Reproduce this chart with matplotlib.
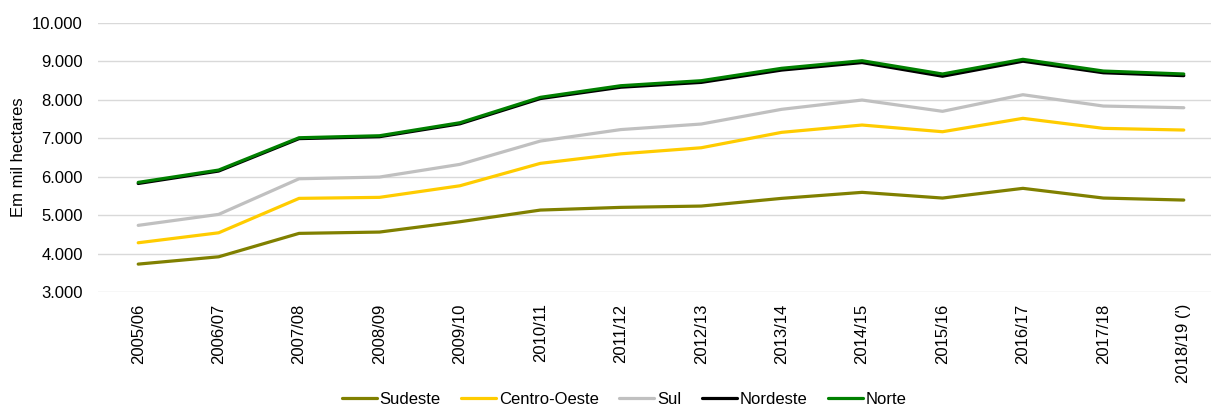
import matplotlib
matplotlib.use("Agg")
import matplotlib.pyplot as plt
from matplotlib.ticker import FuncFormatter

plt.rcParams['font.family'] = ['Liberation Sans', 'DejaVu Sans']

safras = ["2005/06", "2006/07", "2007/08", "2008/09", "2009/10", "2010/11", "2011/12",
          "2012/13", "2013/14", "2014/15", "2015/16", "2016/17", "2017/18", "2018/19 (')"]

sudeste = [3732, 3922, 4530, 4564, 4832, 5135, 5205, 5239, 5439, 5595, 5447, 5699, 5447, 5395]
centro_oeste = [4286, 4545, 5439, 5465, 5766, 6348, 6595, 6753, 7153, 7343, 7169, 7517, 7257, 7213]
sul = [4738, 5023, 5948, 5992, 6322, 6927, 7225, 7369, 7751, 7992, 7699, 8130, 7836, 7792]
nordeste = [5825, 6148, 6990, 7040, 7375, 8030, 8325, 8450, 8770, 8965, 8610, 9000, 8700, 8625]
norte = [5854, 6174, 7013, 7065, 7403, 8062, 8364, 8494, 8816, 9013, 8668, 9049, 8745, 8668]

series = [
    ("Sudeste", sudeste, "#808000"),
    ("Centro-Oeste", centro_oeste, "#FFCC00"),
    ("Sul", sul, "#C0C0C0"),
    ("Nordeste", nordeste, "#000000"),
    ("Norte", norte, "#008000"),
]

FS = 12

fig = plt.figure(figsize=(12.11, 4.05), dpi=100)
ax = fig.add_axes([98/1211, 1 - 292.3/405, (1224-98)/1211, (292.3-22.7)/405])

x = list(range(len(safras)))
for name, vals, color in series:
    ax.plot(x, vals, color=color, lw=2.3, label=name, solid_capstyle='round', solid_joinstyle='round')

ax.set_xlim(-0.5, len(safras) - 0.5)
ax.set_ylim(3000, 10000)
ax.set_yticks(range(3000, 10001, 1000))
ax.yaxis.set_major_formatter(FuncFormatter(lambda v, p: f"{int(v):,}".replace(",", ".")))
ax.set_xticks(x)
ax.set_xticklabels(safras, rotation=90, fontsize=FS)
ax.tick_params(axis='y', length=0, pad=11, labelsize=FS, labelcolor='#000000')
ax.tick_params(axis='x', length=0, pad=8, labelcolor='#000000')
ax.grid(axis='y', color='#D9D9D9', lw=1.0)
ax.set_axisbelow(True)
for s in ax.spines.values():
    s.set_visible(False)
ax.set_ylabel("Em mil hectares", fontsize=FS)
ax.yaxis.set_label_coords(-0.064, 0.5)

fig.legend(loc='center', bbox_to_anchor=(624/1211, 6/405), ncol=5, frameon=False,
           fontsize=FS, handlelength=2.1, handletextpad=0.15, columnspacing=1.25,
           borderaxespad=0)

fig.savefig("out.png", dpi=100)
